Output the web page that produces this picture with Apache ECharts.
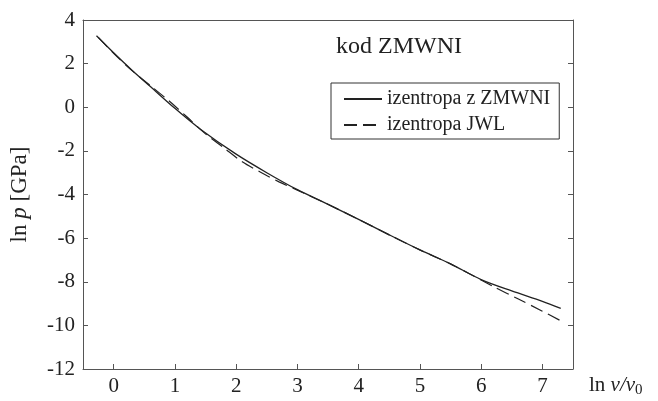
<!DOCTYPE html>
<html lang="pl">
<head>
<meta charset="UTF-8">
<title>izentropa</title>
<style>
  html, body { margin: 0; padding: 0; background: #fff; }
  #main { width: 658px; height: 401px; }
</style>
</head>
<body>
<div id="main"></div>
<script src="https://cdn.jsdelivr.net/npm/echarts@6/dist/echarts.min.js"></script>
<script>
// izentropa z ZMWNI (linia ciagla)
var solidX = [-0.28, 0, 0.3, 0.6, 1, 1.4, 2, 2.5, 3, 3.5, 4, 4.5, 5, 5.5, 6, 6.5, 7, 7.3];
var solidY = [3.28, 2.5, 1.7, 0.95, -0.05, -0.97, -2.15, -3.0, -3.78, -4.45, -5.14, -5.85, -6.54, -7.18, -7.9, -8.42, -8.9, -9.22];
// izentropa JWL (linia przerywana)
var dashX = [-0.25, 0, 0.3, 0.6, 0.9, 1.2, 1.5, 1.8, 2.1, 2.4, 2.7, 3, 3.5, 4, 4.5, 5, 5.5, 5.8, 6.2, 6.6, 7, 7.28];
var dashY = [3.2, 2.47, 1.68, 0.99, 0.3, -0.45, -1.22, -1.86, -2.5, -2.98, -3.42, -3.8, -4.45, -5.14, -5.85, -6.54, -7.18, -7.62, -8.22, -8.78, -9.35, -9.76];
var xTicks = [0, 1, 2, 3, 4, 5, 6, 7];

function pairs(xs, ys) {
  return xs.map(function (x, i) { return [x, ys[i]]; });
}

var font = 'Liberation Serif';
var ink = '#222';
var axisCol = '#555';

var myChart = echarts.init(document.getElementById('main'));
var option = {
  animation: false,
  backgroundColor: '#fff',
  textStyle: { fontFamily: font, color: ink },
  title: {
    text: 'kod ZMWNI',
    left: 331,
    top: 30,
    textStyle: { fontFamily: font, fontSize: 24, fontWeight: 'normal', color: ink }
  },
  legend: {
    orient: 'vertical',
    left: 331,
    top: 83,
    padding: [6, 9, 4, 12],
    borderColor: '#333',
    borderWidth: 1,
    itemWidth: 38,
    itemHeight: 20,
    itemGap: 6,
    itemStyle: { opacity: 0 },
    textStyle: { fontFamily: font, fontSize: 20, color: ink },
    data: ['izentropa z ZMWNI', 'izentropa JWL']
  },
  grid: { left: 74, right: 85, top: 20, bottom: 32 },
  xAxis: [{
    type: 'value',
    min: -0.5,
    max: 7.5,
    splitLine: { show: false },
    axisLine: { onZero: false, lineStyle: { color: axisCol, width: 1 } },
    axisTick: { inside: true, length: 5, customValues: xTicks, lineStyle: { color: axisCol } },
    axisLabel: { customValues: xTicks, margin: 7, fontFamily: font, fontSize: 21, color: ink },
    name: '{n|ln }{i|v/v}{s|0}',
    nameLocation: 'end',
    nameGap: 16,
    nameTextStyle: {
      padding: [32, 0, 0, 0],
      rich: {
        n: { fontFamily: font, fontSize: 21, color: ink },
        i: { fontFamily: font, fontSize: 21, fontStyle: 'italic', color: ink },
        s: { fontFamily: font, fontSize: 15, color: ink, padding: [10, 0, 0, 0] }
      }
    }
  }, {
    type: 'value',
    position: 'top',
    min: -0.5,
    max: 7.5,
    splitLine: { show: false },
    axisLine: { onZero: false, lineStyle: { color: axisCol, width: 1 } },
    axisTick: { show: false },
    axisLabel: { show: false }
  }],
  yAxis: [{
    type: 'value',
    min: -12,
    max: 4,
    interval: 2,
    splitLine: { show: false },
    axisLine: { show: true, onZero: false, lineStyle: { color: axisCol, width: 1 } },
    axisTick: { show: true, inside: true, length: 5, lineStyle: { color: axisCol } },
    axisLabel: { margin: 8, fontFamily: font, fontSize: 21, color: ink },
    name: '{n|ln }{i|p}{n| [GPa]}',
    nameLocation: 'middle',
    nameGap: 52,
    nameTextStyle: {
      rich: {
        n: { fontFamily: font, fontSize: 23, color: ink },
        i: { fontFamily: font, fontSize: 23, fontStyle: 'italic', color: ink }
      }
    }
  }, {
    type: 'value',
    position: 'right',
    min: -12,
    max: 4,
    interval: 2,
    splitLine: { show: false },
    axisLine: { show: true, onZero: false, lineStyle: { color: axisCol, width: 1 } },
    axisTick: { show: true, inside: true, length: 5, lineStyle: { color: axisCol } },
    axisLabel: { show: false }
  }],
  series: [{
    name: 'izentropa z ZMWNI',
    type: 'line',
    data: pairs(solidX, solidY),
    symbol: 'none',
    smooth: 0.3,
    color: ink,
    lineStyle: { color: ink, width: 1.3 }
  }, {
    name: 'izentropa JWL',
    type: 'line',
    data: pairs(dashX, dashY),
    symbol: 'none',
    smooth: 0.3,
    color: ink,
    lineStyle: { color: ink, width: 1.2, type: [13, 6] }
  }]
};

myChart.setOption(option);
</script>
</body>
</html>
